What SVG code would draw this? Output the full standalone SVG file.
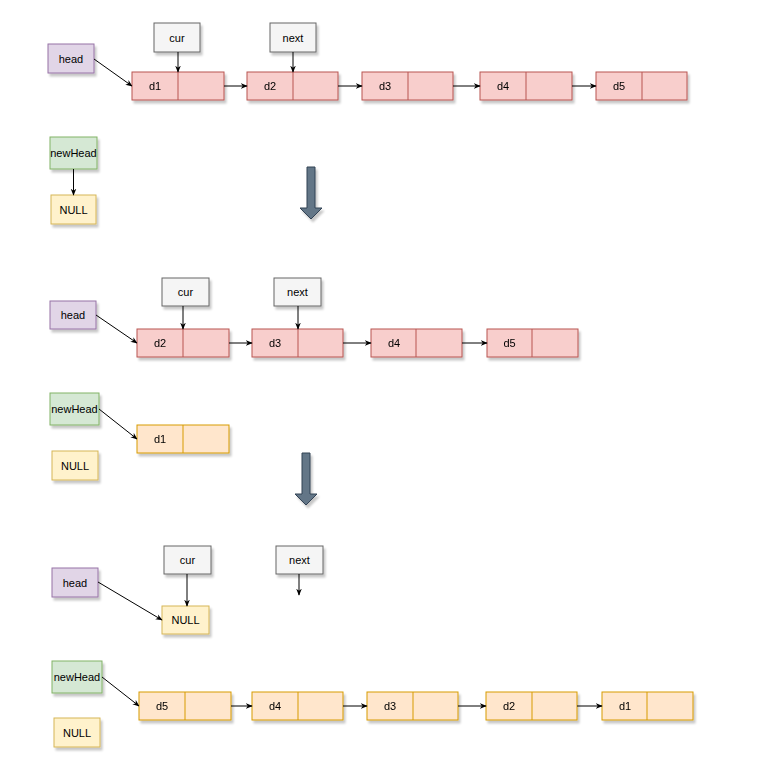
<svg xmlns="http://www.w3.org/2000/svg" width="770" height="758" viewBox="0 0 770 758">
<defs>
<filter id="sh" x="-20%" y="-20%" width="150%" height="160%">
<feDropShadow dx="2" dy="3" stdDeviation="1" flood-color="#000" flood-opacity="0.22"/>
</filter>
<marker id="ah" viewBox="0 0 10 10" refX="9" refY="5" markerWidth="7" markerHeight="7" markerUnits="userSpaceOnUse" orient="auto">
<path d="M0,1 L10,5 L0,9 L3,5 Z" fill="#000"/>
</marker>
</defs>
<style>
text{font-family:"Liberation Sans",Arial,sans-serif;font-size:11px;fill:#000;text-anchor:middle;dominant-baseline:central}
.red rect,.red line{fill:#f8cecc;stroke:#b85450;stroke-width:1}
.org rect,.org line{fill:#ffe6cc;stroke:#d79b00;stroke-width:1}
.yel{fill:#fff2cc;stroke:#d6b656}
.pur{fill:#e1d5e7;stroke:#9673a6}
.grn{fill:#d5e8d4;stroke:#82b366}
.gry{fill:#f5f5f5;stroke:#666666}
.box{filter:url(#sh)}
.c line{stroke:#000;stroke-width:1;marker-end:url(#ah)}
.big{fill:#647687;stroke:#314354;stroke-width:1;filter:url(#sh)}
</style>

<!-- Section 1 -->
<g id="head1"><rect class="pur box" x="48" y="44" width="46" height="29"/><text x="71" y="58.5">head</text></g>
<g id="cur1"><rect class="gry box" x="154" y="23" width="46" height="29"/><text x="177" y="37.5">cur</text></g>
<g id="next1"><rect class="gry box" x="270" y="23" width="46" height="29"/><text x="293" y="37.5">next</text></g>
<g id="s1d1" class="red box"><rect x="132" y="72" width="92" height="28"/><line x1="178" y1="72" x2="178" y2="100"/><text x="155" y="86">d1</text></g>
<g id="s1d2" class="red box"><rect x="247" y="72" width="91" height="28"/><line x1="293" y1="72" x2="293" y2="100"/><text x="270" y="86">d2</text></g>
<g id="s1d3" class="red box"><rect x="362" y="72" width="91" height="28"/><line x1="408" y1="72" x2="408" y2="100"/><text x="385" y="86">d3</text></g>
<g id="s1d4" class="red box"><rect x="480" y="72" width="92" height="28"/><line x1="526" y1="72" x2="526" y2="100"/><text x="503" y="86">d4</text></g>
<g id="s1d5" class="red box"><rect x="596" y="72" width="91" height="28"/><line x1="642" y1="72" x2="642" y2="100"/><text x="619" y="86">d5</text></g>
<g id="newHead1"><rect class="grn box" x="50" y="137" width="47" height="32"/><text x="73.5" y="153">newHead</text></g>
<g id="null1"><rect class="yel box" x="51" y="195" width="45" height="29"/><text x="73.5" y="209.5">NULL</text></g>
<g id="bigArrow1"><path class="big" d="M307,167 H315 V208 H322 L311,219 L300,208 H307 Z"/></g>

<!-- Section 2 -->
<g id="head2"><rect class="pur box" x="50" y="301" width="46" height="28"/><text x="73" y="315">head</text></g>
<g id="cur2"><rect class="gry box" x="162" y="278" width="47" height="28"/><text x="185.5" y="292">cur</text></g>
<g id="next2"><rect class="gry box" x="274" y="278" width="47" height="28"/><text x="297.5" y="292">next</text></g>
<g id="s2d2" class="red box"><rect x="137" y="329" width="92" height="28"/><line x1="183" y1="329" x2="183" y2="357"/><text x="160" y="343">d2</text></g>
<g id="s2d3" class="red box"><rect x="252" y="329" width="91" height="28"/><line x1="298" y1="329" x2="298" y2="357"/><text x="275" y="343">d3</text></g>
<g id="s2d4" class="red box"><rect x="371" y="329" width="91" height="28"/><line x1="416" y1="329" x2="416" y2="357"/><text x="394" y="343">d4</text></g>
<g id="s2d5" class="red box"><rect x="487" y="329" width="91" height="28"/><line x1="532" y1="329" x2="532" y2="357"/><text x="509.5" y="343">d5</text></g>
<g id="newHead2"><rect class="grn box" x="50" y="393" width="49" height="32"/><text x="74.5" y="409">newHead</text></g>
<g id="s2d1" class="org box"><rect x="137" y="425" width="92" height="28"/><line x1="183" y1="425" x2="183" y2="453"/><text x="160" y="439">d1</text></g>
<g id="null2"><rect class="yel box" x="52" y="451" width="46" height="29"/><text x="75" y="465.5">NULL</text></g>
<g id="bigArrow2"><path class="big" d="M302,453 H310 V494 H317 L306,505 L295,494 H302 Z"/></g>

<!-- Section 3 -->
<g id="head3"><rect class="pur box" x="52" y="568" width="46" height="29"/><text x="75" y="582.5">head</text></g>
<g id="cur3"><rect class="gry box" x="164" y="546" width="47" height="28"/><text x="187.5" y="560">cur</text></g>
<g id="next3"><rect class="gry box" x="276" y="546" width="47" height="28"/><text x="299.5" y="560">next</text></g>
<g id="null3a"><rect class="yel box" x="162" y="606" width="47" height="28"/><text x="185.5" y="620">NULL</text></g>
<g id="newHead3"><rect class="grn box" x="52" y="661" width="50" height="32"/><text x="77" y="677">newHead</text></g>
<g id="s3d5" class="org box"><rect x="139" y="692" width="92" height="28"/><line x1="185" y1="692" x2="185" y2="720"/><text x="162" y="706">d5</text></g>
<g id="s3d4" class="org box"><rect x="252" y="692" width="91" height="28"/><line x1="298" y1="692" x2="298" y2="720"/><text x="275" y="706">d4</text></g>
<g id="s3d3" class="org box"><rect x="367" y="692" width="91" height="28"/><line x1="413" y1="692" x2="413" y2="720"/><text x="390" y="706">d3</text></g>
<g id="s3d2" class="org box"><rect x="486" y="692" width="91" height="28"/><line x1="532" y1="692" x2="532" y2="720"/><text x="509" y="706">d2</text></g>
<g id="s3d1" class="org box"><rect x="602" y="692" width="91" height="28"/><line x1="647" y1="692" x2="647" y2="720"/><text x="625" y="706">d1</text></g>
<g id="null3b"><rect class="yel box" x="54" y="718" width="46" height="29"/><text x="77" y="732.5">NULL</text></g>

<g id="connectors" class="c">
<line x1="94" y1="59" x2="132" y2="86"/>
<line x1="178" y1="52" x2="178" y2="72"/>
<line x1="293" y1="52" x2="293" y2="72"/>
<line x1="224" y1="86" x2="247" y2="86"/>
<line x1="338" y1="86" x2="362" y2="86"/>
<line x1="453" y1="86" x2="480" y2="86"/>
<line x1="572" y1="86" x2="596" y2="86"/>
<line x1="73.5" y1="169" x2="73.5" y2="195"/>

<line x1="96" y1="315" x2="137" y2="343"/>
<line x1="183" y1="306" x2="183" y2="329"/>
<line x1="298" y1="306" x2="298" y2="329"/>
<line x1="229" y1="343" x2="252" y2="343"/>
<line x1="343" y1="343" x2="371" y2="343"/>
<line x1="462" y1="343" x2="487" y2="343"/>
<line x1="99" y1="409" x2="137" y2="439"/>

<line x1="98" y1="582" x2="162" y2="620"/>
<line x1="187" y1="574" x2="187" y2="606"/>
<line x1="299" y1="574" x2="299" y2="595"/>
<line x1="102" y1="677" x2="139" y2="706"/>
<line x1="231" y1="706" x2="252" y2="706"/>
<line x1="343" y1="706" x2="367" y2="706"/>
<line x1="458" y1="706" x2="486" y2="706"/>
<line x1="577" y1="706" x2="602" y2="706"/>
</g>
</svg>
